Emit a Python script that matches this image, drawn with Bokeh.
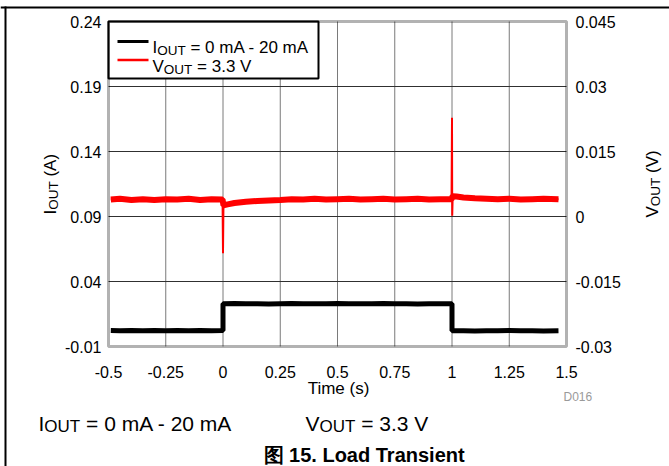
import math
from bokeh.plotting import figure
from bokeh.models import Range1d, Label, BoxAnnotation
from bokeh.core.properties import value
from bokeh.embed import file_html
from bokeh.resources import INLINE

# ---------------- data ----------------
x_ticks = [-0.5, -0.25, 0, 0.25, 0.5, 0.75, 1, 1.25, 1.5]
x_labels = ["-0.5", "-0.25", "0", "0.25", "0.5", "0.75", "1", "1.25", "1.5"]
i_ticks = [-0.01, 0.04, 0.09, 0.14, 0.19, 0.24]
i_labels = ["-0.01", "0.04", "0.09", "0.14", "0.19", "0.24"]
v_ticks = [-0.03, -0.015, 0, 0.015, 0.03, 0.045]
v_labels = ["-0.03", "-0.015", "0", "0.015", "0.03", "0.045"]

# I_OUT (A) vs time (s)
iout_t = [-0.49, -0.45, -0.40, -0.35, -0.30, -0.25, -0.20, -0.15, -0.10, -0.05, 0.0,
          0.0, 0.05, 0.10, 0.15, 0.20, 0.25, 0.30, 0.35, 0.40, 0.45, 0.50, 0.55, 0.60,
          0.65, 0.70, 0.75, 0.80, 0.85, 0.90, 0.95, 1.0,
          1.0, 1.05, 1.10, 1.15, 1.20, 1.25, 1.30, 1.35, 1.40, 1.465]
iout_a = [0.0023, 0.0021, 0.0024, 0.0022, 0.0023, 0.0021, 0.0024, 0.0022, 0.0023, 0.0022, 0.0023,
          0.0229, 0.0230, 0.0228, 0.0229, 0.0227, 0.0229, 0.0230, 0.0228, 0.0229, 0.0228, 0.0230,
          0.0229, 0.0228, 0.0229, 0.0230, 0.0228, 0.0229, 0.0227, 0.0229, 0.0228, 0.0229,
          0.0021, 0.0022, 0.0020, 0.0022, 0.0021, 0.0023, 0.0021, 0.0022, 0.0020, 0.0022]

# V_OUT deviation (V) vs time (s)
vout_t = [-0.49, -0.45, -0.40, -0.35, -0.30, -0.25, -0.20, -0.15, -0.10, -0.05, -0.002,
          0.0, 0.002,
          0.02, 0.05, 0.10, 0.15, 0.20, 0.25, 0.30, 0.35, 0.40, 0.45, 0.50, 0.55, 0.60, 0.65,
          0.70, 0.75, 0.80, 0.85, 0.90, 0.95, 0.998,
          1.0, 1.001, 1.003,
          1.02, 1.05, 1.10, 1.15, 1.20, 1.25, 1.30, 1.35, 1.40, 1.465]
vout_v = [0.0039, 0.0041, 0.0038, 0.0040, 0.0038, 0.0040, 0.0039, 0.0041, 0.0038, 0.0040, 0.0039,
          -0.0085, 0.0026,
          0.0028, 0.0031, 0.0034, 0.0036, 0.0037, 0.0038, 0.0040, 0.0039, 0.0041, 0.0039, 0.0040,
          0.0041, 0.0039, 0.0040, 0.0041, 0.0039, 0.0040, 0.0041, 0.0039, 0.0040, 0.0040,
          0.0228, 0.0002, 0.0047,
          0.0046, 0.0044, 0.0042, 0.0041, 0.0040, 0.0041, 0.0039, 0.0040, 0.0041, 0.0040]
vout_spike_t = [0.0, 1.0, 1.001]

# ---------------- layout ----------------
W, H = 669, 466
FL, FT, FW, FH = 108, 21, 458, 325          # plot box in page pixels
XA = (-0.5, 1.5)
YA = (-0.01, 0.24)
VA = (-0.03, 0.045)
FONT = "Liberation Sans"

def ext(a, lo_px, hi_px, span_px):
    k = (a[1] - a[0]) / span_px
    return (a[0] - lo_px * k, a[1] + hi_px * k)

x_rng = ext(XA, FL, W - FL - FW, FW)
y_rng = ext(YA, H - FT - FH, FT, FH)
v_rng = ext(VA, H - FT - FH, FT, FH)

p = figure(width=W, height=H, output_backend="svg", toolbar_location=None,
           x_range=Range1d(*x_rng), y_range=Range1d(*y_rng),
           x_axis_type=None, y_axis_type=None,
           min_border=0, min_border_left=0, min_border_right=0,
           min_border_top=0, min_border_bottom=0)
p.extra_y_ranges = {"v": Range1d(*v_rng)}
p.background_fill_color = "white"
p.border_fill_color = "white"
p.outline_line_color = None

def X(px):
    return x_rng[0] + px / W * (x_rng[1] - x_rng[0])

def Y(py):
    return y_rng[1] - py / H * (y_rng[1] - y_rng[0])

# ---------------- grid ----------------
gx = x_ticks[1:-1]
gy = i_ticks[1:-1]
p.segment(x0=gx, x1=gx, y0=[YA[0]] * len(gx), y1=[YA[1]] * len(gx),
          line_color="#7a7a7a", line_width=1)
p.segment(x0=[XA[0]] * len(gy), x1=[XA[1]] * len(gy), y0=gy, y1=gy,
          line_color="#303030", line_width=1)

# ---------------- tick labels ----------------
p.text(x=x_ticks, y=[Y(371)] * len(x_ticks), text=x_labels, text_font=value(FONT),
       text_font_size=value("16px"), text_align="center", text_baseline="alphabetic",
       text_color="black")
p.text(x=[X(101)] * len(i_ticks), y=i_ticks, text=i_labels, text_font=value(FONT),
       text_font_size=value("16px"), text_align="right", text_baseline="middle",
       text_color="black")
p.text(x=[X(575)] * len(v_ticks), y=v_ticks, text=v_labels, text_font=value(FONT),
       text_font_size=value("16px"), text_align="left", text_baseline="middle",
       text_color="black", y_range_name="v")

# ---------------- legend box and samples ----------------
p.quad(left=[X(108)], right=[X(318)], top=[Y(21)], bottom=[Y(78)],
       fill_color="white", line_color="black", line_width=2)
p.line([X(117), X(148)], [Y(41), Y(41)], line_color="black", line_width=3)
p.line([X(117), X(148)], [Y(59.5), Y(59.5)], line_color="red", line_width=2.5)

# ---------------- series ----------------
p.line(iout_t, iout_a, line_color="black", line_width=5)
band_t = [t for t in vout_t if t not in vout_spike_t]
band_v = [v for t, v in zip(vout_t, vout_v) if t not in vout_spike_t]
p.line(band_t, band_v, line_color="red", line_width=6, y_range_name="v")
p.line(vout_t, vout_v, line_color="red", line_width=2, y_range_name="v")

# plot box outline
p.add_layout(BoxAnnotation(left=XA[0], right=XA[1], bottom=YA[0], top=YA[1],
                           fill_alpha=0, line_color="black", line_width=3))
# page frame lines (top and left)
p.add_layout(BoxAnnotation(left=X(0), right=X(W), top=Y(6), bottom=Y(8),
                           fill_color="black", fill_alpha=1, line_color=None))
p.add_layout(BoxAnnotation(left=X(4), right=X(6), top=Y(6), bottom=Y(H),
                           fill_color="black", fill_alpha=1, line_color=None))

# ---------------- texts ----------------
ADV = {"I": .278, "O": .778, "U": .722, "T": .611, "V": .667, " ": .278, "=": .584,
       ".": .278, "m": .833, "A": .667, "-": .333, "(": .333, ")": .333, "s": .5}

def tw(text, size):
    return sum(ADV.get(c, .556) for c in text) * size

def rich(px, py, parts, angle=0.0):
    pos = 0.0
    for text, size, drop in parts:
        lead = len(text) - len(text.lstrip(" "))
        pos += lead * ADV[" "] * size
        text = text.lstrip(" ")
        if angle == 0:
            x, y = px + pos, py + drop
        else:
            x, y = px + drop, py - pos
        p.add_layout(Label(x=X(x), y=Y(y), text=text, angle=angle,
                           text_font=FONT, text_font_size=f"{size}px",
                           text_color="black", text_align="left",
                           text_baseline="alphabetic"))
        pos += tw(text, size)

rich(152, 47, [("I", 17, 0), ("OUT", 13.5, 2.5), (" = 0 mA - 20 mA", 17, 0)])
rich(152, 66, [("V", 17, 0), ("OUT", 13.5, 2.5), (" = 3.3 V", 17, 0)])
rich(50, 214, [("I", 17, 0), ("OUT", 13.5, 2.5), (" (A)", 17, 0)], angle=math.pi / 2)
rich(652, 217, [("V", 17, 0), ("OUT", 13.5, 2.5), (" (V)", 17, 0)], angle=math.pi / 2)
rich(38, 423, [("I", 21, 0), ("OUT", 17, 3), (" = 0 mA - 20 mA", 21, 0)])
rich(305, 423, [("V", 21, 0), ("OUT", 17, 3), (" = 3.3 V", 21, 0)])

p.add_layout(Label(x=X(338), y=Y(388), text="Time (s)", text_font=FONT,
                   text_font_size="17px", text_align="center",
                   text_baseline="alphabetic", text_color="black"))
p.add_layout(Label(x=X(563), y=Y(396), text="D016", text_font=FONT,
                   text_font_size="12px", text_align="left",
                   text_baseline="alphabetic", text_color="#9a9a9a"))
p.add_layout(Label(x=X(263), y=Y(454), text="图 15. Load Transient", text_font=FONT,
                   text_font_size="20px", text_font_style="bold", text_align="left",
                   text_baseline="alphabetic", text_color="black"))

open("out.html", "w").write(file_html(p, INLINE))
